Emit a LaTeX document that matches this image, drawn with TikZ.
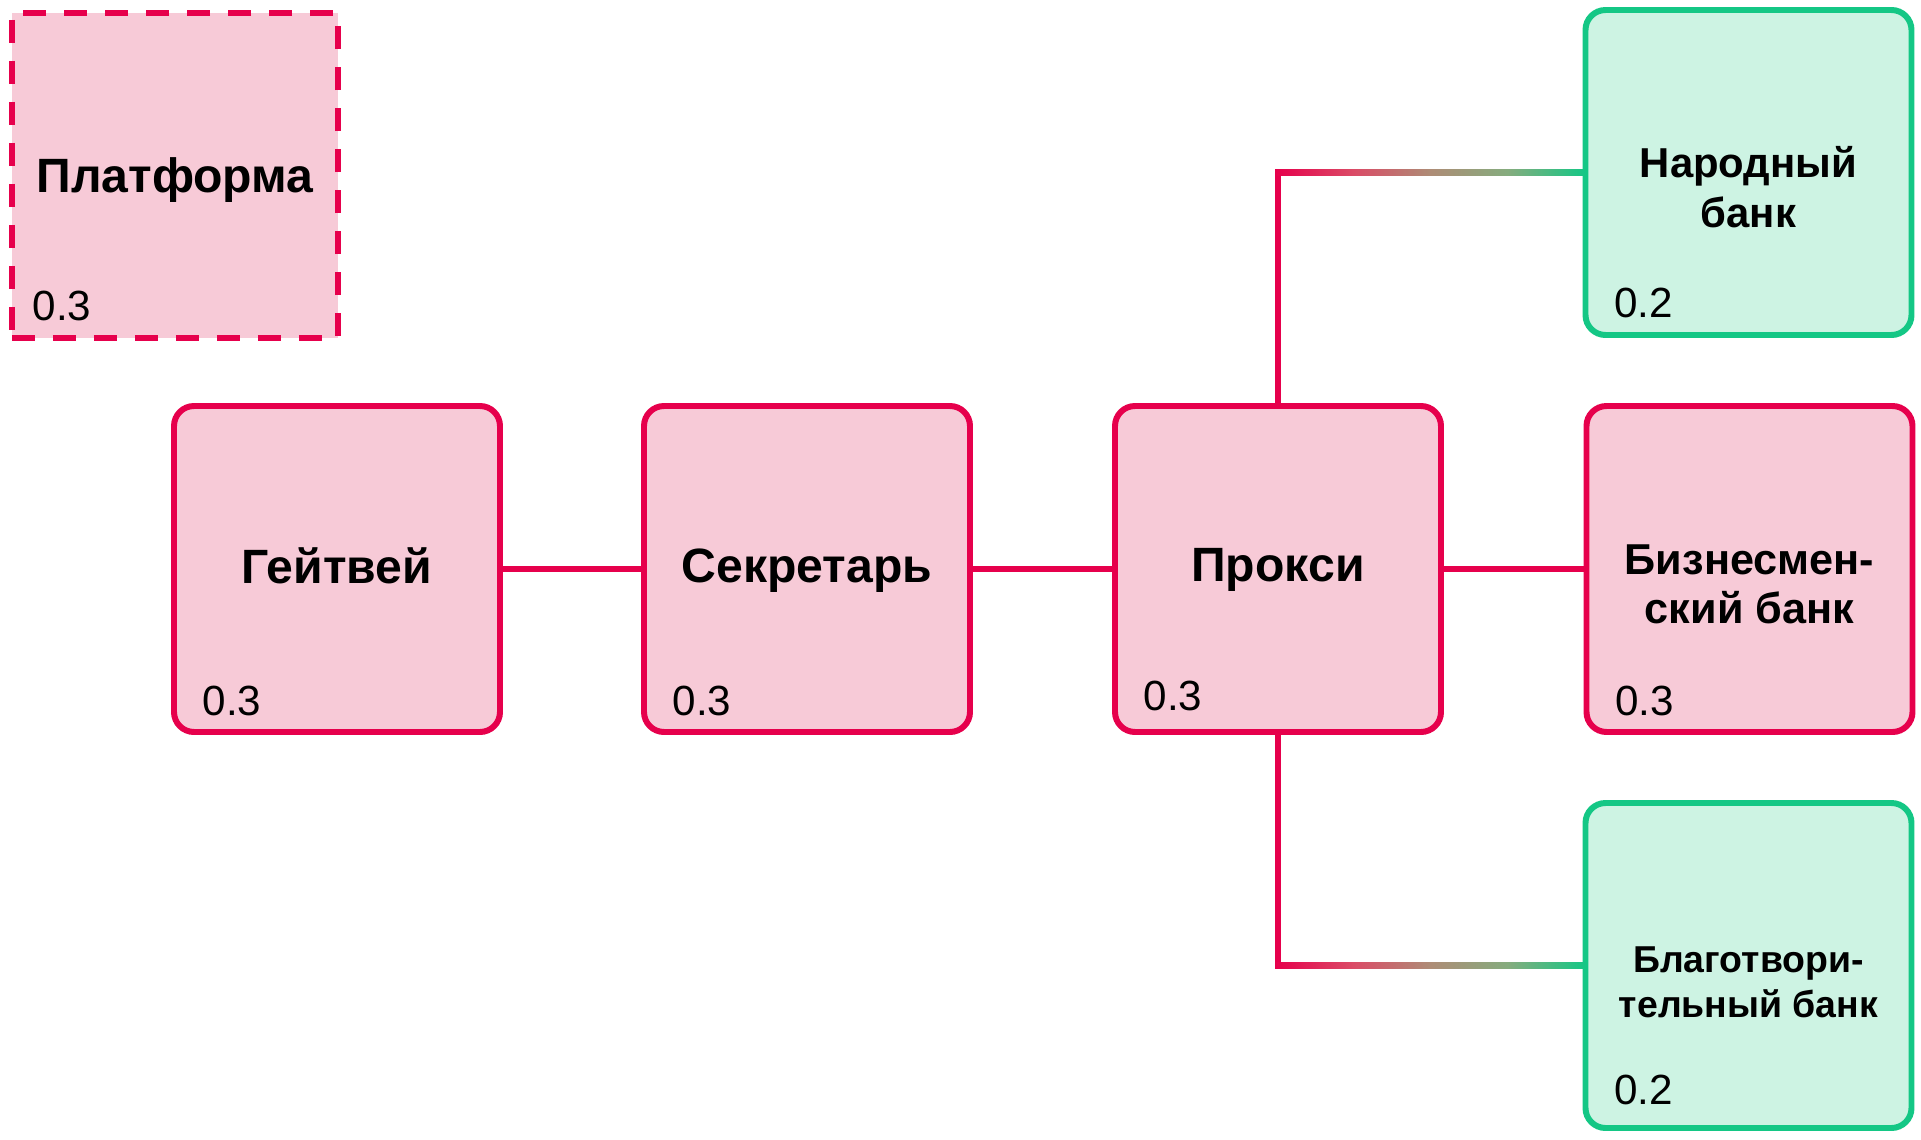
\documentclass[tikz,border=0pt]{standalone}
\usepackage{fontspec}
\setmainfont{Liberation Sans}
\definecolor{accRed}{HTML}{E6004C}
\definecolor{softRed}{HTML}{F7CAD7}
\definecolor{accGreen}{HTML}{14C785}
\definecolor{softGreen}{HTML}{CDF3E3}
\definecolor{linkA}{HTML}{DB4A66}
\definecolor{linkB}{HTML}{AE8C76}
\definecolor{linkC}{HTML}{85AC7E}
\pgfdeclarehorizontalshading{redtogreen}{100bp}{color(0bp)=(accRed); color(25bp)=(accRed); color(37.5bp)=(linkA); color(50bp)=(linkB); color(62.5bp)=(linkC); color(75bp)=(accGreen); color(100bp)=(accGreen)}
\begin{document}
\begin{tikzpicture}
    \tikzset{redbox/.style={draw=accRed, fill=softRed, line width=1.7pt, rounded corners=0.2cm, minimum width=3.26cm, minimum height=3.26cm, inner sep=0pt, outer sep=0pt}}
    \tikzset{greenbox/.style={redbox, draw=accGreen, fill=softGreen}}
    \tikzset{title/.style={font=\bfseries\fontsize{13.7pt}{16pt}\selectfont, anchor=base, align=center, inner sep=0pt}}
    \tikzset{weight/.style={font=\fontsize{12pt}{14pt}\selectfont, anchor=base west, inner sep=0pt}}
    \tikzset{link/.style={draw=accRed, line width=1.7pt}}
    \useasboundingbox (0,0) rectangle (19.21,11.39);

    \node[redbox, rounded corners=0pt, dash pattern=on 0.23cm off 0.18cm, minimum height=3.25cm] (Platform) at (1.75,9.635) {};
    \node[redbox] (Gateway) at (3.37,5.70) {};
    \node[redbox] (Secretary) at (8.07,5.70) {};
    \node[redbox] (Proxy) at (12.78,5.70) {};
    \node[greenbox, minimum height=3.25cm] (PeopleBank) at (17.485,9.665) {};
    \node[redbox] (BusinessBank) at (17.495,5.70) {};
    \node[greenbox, minimum height=3.25cm] (CharityBank) at (17.485,1.735) {};

    \node[title] (PlatformName) at ([yshift=-0.165cm]Platform.center) {Платформа};
    \node[title] (GatewayName) at ([yshift=-0.14cm]Gateway.center) {Гейтвей};
    \node[title] (SecretaryName) at ([yshift=-0.135cm]Secretary.center) {Секретарь};
    \node[title] (ProxyName) at ([yshift=-0.125cm]Proxy.center) {Прокси};
    \node[title, font=\bfseries\fontsize{11.9pt}{14.2pt}\selectfont] (PeopleName) at ([yshift=-0.545cm]PeopleBank.center) {Народный\\банк};
    \node[title, font=\bfseries\fontsize{12.3pt}{13.9pt}\selectfont] (BusinessName) at ([yshift=-0.54cm]BusinessBank.center) {Бизнесмен-\\ский банк};
    \node[title, font=\bfseries\fontsize{10.65pt}{12.8pt}\selectfont] (CharityName) at ([yshift=-0.515cm]CharityBank.center) {Благотвори-\\тельный банк};

    \foreach \n/\w/\dx/\dy in {Platform/0.3/0.20/0.18, Gateway/0.3/0.28/0.17, Secretary/0.3/0.28/0.17, Proxy/0.3/0.28/0.22, PeopleBank/0.2/0.28/0.18, BusinessBank/0.3/0.28/0.17, CharityBank/0.2/0.28/0.24}{
        \node[weight] (\n-w) at ([xshift=\dx cm, yshift=\dy cm]\n.south west) {\w};
    }

    \draw[link] (Gateway) -- (Secretary);
    \draw[link] (Secretary) -- (Proxy);
    \draw[link] (Proxy) -- (BusinessBank);
    \coordinate (UpperBend) at (Proxy.north |- PeopleBank.west);
    \coordinate (LowerBend) at (Proxy.south |- CharityBank.west);
    \draw[link] (Proxy.north) -- (UpperBend);
    \draw[link] (Proxy.south) -- (LowerBend);
    \shade[shading=redtogreen] ([xshift=-0.85pt, yshift=-0.85pt]UpperBend) rectangle ([yshift=0.85pt]PeopleBank.west);
    \shade[shading=redtogreen] ([xshift=-0.85pt, yshift=-0.85pt]LowerBend) rectangle ([yshift=0.85pt]CharityBank.west);
\end{tikzpicture}
\end{document}
